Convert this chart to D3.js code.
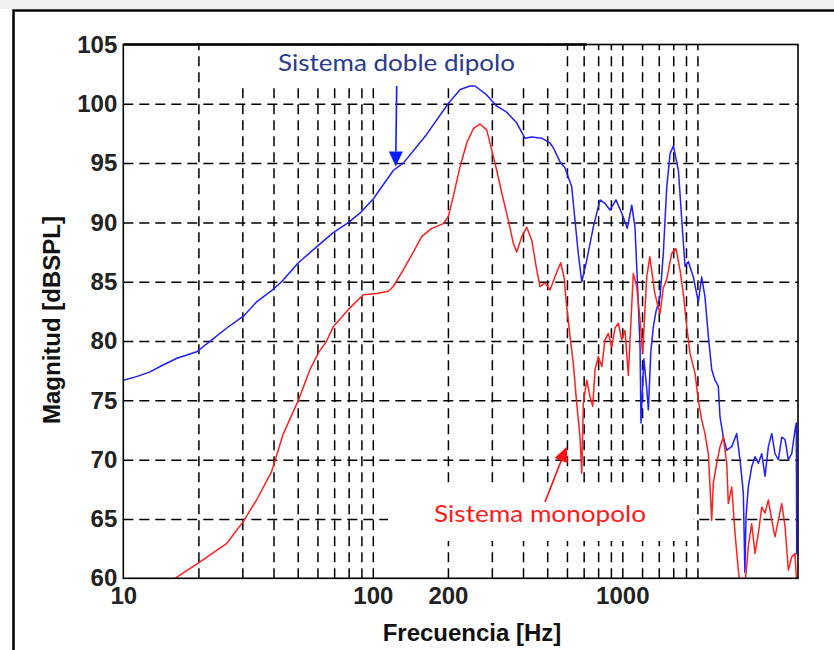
<!DOCTYPE html>
<html><head><meta charset="utf-8">
<script src="https://cdn.jsdelivr.net/npm/d3@7"></script>
<style>body{margin:0;background:#fff} svg{display:block}</style>
</head><body>
<svg id="c" width="834" height="650"></svg>
<script>
// ---------- data ----------
const yTicks = [60, 65, 70, 75, 80, 85, 90, 95, 100, 105];
const xTickLabels = [10, 100, 200, 1000];
const xGrid = [20, 30, 40, 50, 60, 70, 80, 90, 100, 200, 300, 400, 500, 600, 700, 800, 900, 1000, 1200, 1400, 1600, 1800, 2000];
const yGrid = [65, 70, 75, 80, 85, 90, 95, 100];

const dipoloFreq = [10, 11.3, 12.8, 14.5, 16.4, 19.7, 22.3, 26, 30.3, 34.2, 39.3, 43.1, 50.3, 60, 69, 80, 89, 100.5, 121, 132.5, 164, 201, 224, 245, 257, 286, 314, 344, 377, 407, 433, 475, 513, 529, 563, 589, 627, 646, 666, 688, 720, 765, 814, 852, 893, 943, 994, 1047, 1091, 1124, 1148, 1178, 1188, 1220, 1253, 1272, 1300, 1331, 1365, 1416, 1460, 1507, 1554, 1602, 1678, 1731, 1784, 1839, 1926, 2017, 2081, 2145, 2212, 2282, 2352, 2425, 2464, 2540, 2621, 2745, 2874, 2963, 3055, 3100, 3132, 3199, 3301, 3404, 3509, 3621, 3733, 3849, 3971, 4093, 4221, 4356, 4490, 4629, 4775, 4922, 4980, 5000];
const dipoloDb = [76.7, 77.0, 77.4, 78.0, 78.55, 79.1, 80.0, 81.1, 82.1, 83.3, 84.25, 85.0, 86.6, 88.0, 89.1, 90.0, 90.8, 92.0, 94.4, 95.0, 97.4, 100.05, 101.2, 101.5, 101.5, 100.75, 99.8, 99.3, 98.4, 97.1, 97.2, 97.1, 96.7, 96.3, 95.1, 94.6, 93.0, 90.2, 87.4, 85.0, 86.8, 89.6, 91.9, 91.6, 91.05, 91.9, 90.8, 89.5, 91.45, 89.6, 85.2, 79.5, 73.1, 78.5, 76.0, 74.2, 79.0, 81.2, 82.5, 83.7, 87.4, 93.0, 95.8, 96.45, 94.4, 90.2, 86.3, 86.7, 85.4, 83.3, 85.4, 83.7, 80.4, 77.6, 76.7, 76.2, 73.6, 71.9, 70.8, 71.1, 72.2, 70.0, 67.2, 60.5, 65.2, 67.7, 69.4, 70.25, 69.7, 70.5, 68.6, 71.1, 72.2, 70.5, 70.0, 71.9, 71.7, 70.0, 70.5, 72.5, 73.1, 62.0];

const monopoloFreq = [16.1, 19.7, 26, 30.3, 34.2, 39.3, 43.8, 50.3, 56, 60.5, 65.3, 69.4, 81, 91.6, 103.7, 115.4, 120.8, 132.5, 145.3, 157, 172.2, 191.7, 200.8, 210.2, 223.7, 237.9, 252.8, 269, 286.1, 299.7, 313.7, 328.6, 349.2, 365.7, 377.4, 395.3, 414, 433.5, 453.9, 467.9, 490, 513.1, 545.9, 566.4, 583.9, 598.7, 617.2, 636.3, 656.5, 676.9, 687.8, 698, 720.2, 742.5, 761.2, 777.5, 801.5, 827, 852.5, 879, 907, 935, 964, 994.5, 1025, 1057, 1074, 1107, 1142, 1178, 1207, 1253, 1289, 1350, 1416, 1460, 1507, 1578, 1641, 1703, 1756, 1813, 1867, 1956, 2017, 2081, 2145, 2212, 2282, 2316, 2390, 2464, 2540, 2621, 2660, 2745, 2830, 2917, 2963, 3104, 3199, 3301, 3404, 3509, 3621, 3733, 3849, 3971, 4093, 4221, 4356, 4490, 4629, 4775, 4922, 5000];
const monopoloDb = [60.0, 61.2, 62.95, 64.8, 66.6, 69.0, 72.2, 75.0, 77.6, 79.0, 80.0, 81.2, 82.8, 83.9, 84.0, 84.2, 84.6, 86.0, 87.5, 88.8, 89.5, 89.9, 90.5, 92.2, 94.7, 96.7, 97.9, 98.3, 97.8, 96.1, 94.4, 92.5, 90.2, 88.25, 87.5, 88.8, 89.6, 88.5, 86.0, 84.6, 84.9, 84.3, 85.8, 86.6, 85.4, 82.9, 80.4, 78.1, 74.75, 71.9, 68.85, 74.75, 76.7, 75.3, 74.5, 77.6, 78.7, 77.85, 80.1, 80.65, 79.5, 81.1, 81.5, 80.1, 80.9, 77.1, 80.1, 85.7, 84.6, 81.8, 79.0, 85.4, 87.1, 84.0, 82.3, 84.5, 85.2, 87.4, 87.8, 86.0, 84.0, 81.2, 79.0, 77.3, 75.0, 73.35, 72.2, 70.5, 64.9, 68.0, 69.7, 71.1, 71.9, 69.7, 66.3, 67.7, 63.8, 60.7, 59.5, 59.5, 62.7, 64.6, 62.1, 63.8, 66.0, 65.5, 66.6, 64.9, 63.5, 64.9, 66.3, 64.35, 60.7, 61.8, 62.1, 59.5];

// ---------- layout ----------
const svg = d3.select("#c");
const L = 123.3, R = 798, T = 44.5, B = 578.3;
const x = d3.scaleLog().domain([10, 5060]).range([L, R]);
const y = d3.scaleLinear().domain([60, 105]).range([B, T]);

// page background bits
svg.append("rect").attr("x", 0).attr("y", 0).attr("width", 834).attr("height", 9).attr("fill", "#f0f0f0");
svg.append("path").attr("d", "M13.5,650 V10.5 H834").attr("fill", "none").attr("stroke", "#000").attr("stroke-width", 2.5);

// grid
const grid = svg.append("g");
const gx = grid.append("g").attr("transform", `translate(0,${B})`)
  .call(d3.axisBottom(x).tickValues(xGrid).tickSize(-(B - T)).tickFormat(""));
gx.select(".domain").remove();
gx.selectAll("line").attr("stroke", "#000").attr("stroke-width", 1.5).attr("stroke-dasharray", "10,6");
const gy = grid.append("g").attr("transform", `translate(${L},0)`)
  .call(d3.axisLeft(y).tickValues(yGrid).tickSize(-(R - L)).tickFormat(""));
gy.select(".domain").remove();
gy.selectAll("line").attr("stroke", "#000").attr("stroke-width", 1.5).attr("stroke-dasharray", "10,6");

// annotation backgrounds
svg.append("rect").attr("x", 226).attr("y", T + 1).attr("width", 332).attr("height", 41).attr("fill", "#fff");
svg.append("rect").attr("x", 388).attr("y", 484).attr("width", 305).attr("height", 57).attr("fill", "#fff");

// curves
svg.append("clipPath").attr("id", "clip").append("rect")
  .attr("x", L).attr("y", T).attr("width", R - L).attr("height", B - T);
const line = d3.line().x(d => x(d[0])).y(d => y(d[1]));
const curves = svg.append("g").attr("clip-path", "url(#clip)");
curves.append("path").datum(dipoloFreq.map((f, i) => [f, dipoloDb[i]]))
  .attr("d", line).attr("fill", "none").attr("stroke", "#1f1fff").attr("stroke-width", 1.5).attr("stroke-linejoin", "round");
curves.append("path").datum(monopoloFreq.map((f, i) => [f, monopoloDb[i]]))
  .attr("d", line).attr("fill", "none").attr("stroke", "#ff2020").attr("stroke-width", 1.5).attr("stroke-linejoin", "round");

// axes box
svg.append("rect").attr("x", L).attr("y", T).attr("width", R - L).attr("height", B - T)
  .attr("fill", "none").attr("stroke", "#000").attr("stroke-width", 1.6);
svg.append("line").attr("x1", L).attr("x2", 587).attr("y1", T).attr("y2", T)
  .attr("stroke", "#000").attr("stroke-width", 2.4);

// tick labels
const ax = svg.append("g").attr("transform", `translate(${L},0)`)
  .call(d3.axisLeft(y).tickValues(yTicks).tickSize(0).tickPadding(6));
ax.select(".domain").remove();
ax.selectAll("text").attr("font-family", "Liberation Sans, Arial, sans-serif").attr("font-size", 24)
  .attr("font-weight", "bold").attr("fill", "#222");
const bx = svg.append("g").attr("transform", `translate(0,${B})`)
  .call(d3.axisBottom(x).tickValues(xTickLabels).tickSize(0).tickPadding(9).tickFormat(d3.format("d")));
bx.select(".domain").remove();
bx.selectAll("text").attr("font-family", "Liberation Sans, Arial, sans-serif").attr("font-size", 24)
  .attr("font-weight", "bold").attr("fill", "#222");

// axis titles
svg.append("text").attr("x", 472).attr("y", 641).attr("text-anchor", "middle")
  .attr("font-family", "Liberation Sans, Arial, sans-serif").attr("font-size", 24).attr("font-weight", "bold")
  .attr("fill", "#111").text("Frecuencia [Hz]");
svg.append("text").attr("transform", "translate(60,320) rotate(-90)").attr("text-anchor", "middle")
  .attr("font-family", "Liberation Sans, Arial, sans-serif").attr("font-size", 24).attr("font-weight", "bold")
  .attr("fill", "#111").text("Magnitud [dBSPL]");

// annotations
svg.append("text").attr("x", 278).attr("y", 70.5).attr("font-family", "Lato, Open Sans, sans-serif")
  .attr("font-size", 24).attr("fill", "#2b3a8c").attr("textLength", 237).attr("lengthAdjust", "spacingAndGlyphs")
  .text("Sistema doble dipolo");
svg.append("text").attr("x", 434).attr("y", 521.5).attr("font-family", "Lato, Open Sans, sans-serif")
  .attr("font-size", 24).attr("fill", "#ff1a1a").attr("textLength", 212).attr("lengthAdjust", "spacingAndGlyphs")
  .text("Sistema monopolo");

// arrows
function arrow(x1, y1, x2, y2, color) {
  const a = Math.atan2(y2 - y1, x2 - x1), len = 15, w = 7;
  const bx0 = x2 - len * Math.cos(a), by0 = y2 - len * Math.sin(a);
  svg.append("line").attr("x1", x1).attr("y1", y1).attr("x2", bx0).attr("y2", by0)
    .attr("stroke", color).attr("stroke-width", 1.6);
  const px = -Math.sin(a) * w, py = Math.cos(a) * w;
  svg.append("path").attr("d", `M${x2},${y2} L${bx0 + px},${by0 + py} L${bx0 - px},${by0 - py} Z`).attr("fill", color);
}
arrow(396.7, 86, 395.7, 166.5, "#0a1aff");
arrow(545, 502, 566.7, 446.7, "#ff1010");
</script>
</body></html>
